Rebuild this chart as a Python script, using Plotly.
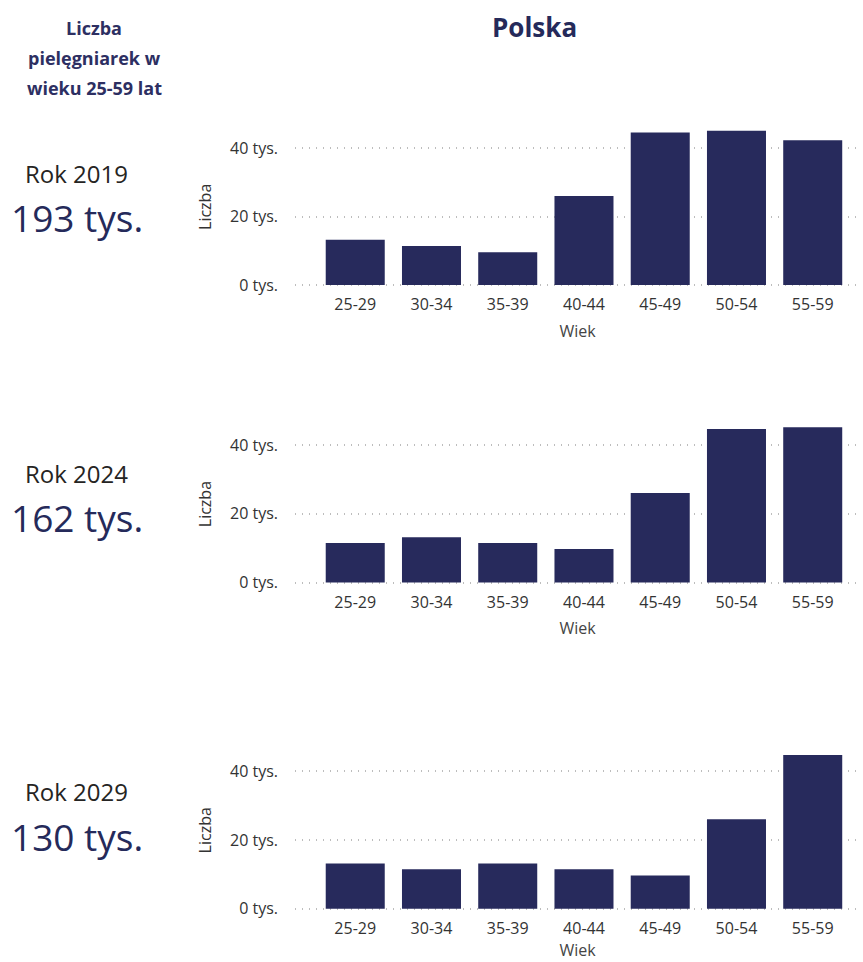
import plotly.graph_objects as go

categories = ["25-29", "30-34", "35-39", "40-44", "45-49", "50-54", "55-59"]
years = ["Rok 2019", "Rok 2024", "Rok 2029"]
totals = ["193 tys.", "162 tys.", "130 tys."]
values_2019 = [13.2, 11.4, 9.6, 26.0, 44.6, 45.1, 42.3]
values_2024 = [11.5, 13.2, 11.5, 9.8, 26.1, 44.7, 45.2]
values_2029 = [13.2, 11.5, 13.2, 11.5, 9.7, 26.1, 44.8]
series = [values_2019, values_2024, values_2029]
y_ticks = [0, 20, 40]
y_ticktext = ["0 tys.", "20 tys.", "40 tys."]

YSCALE, YSHIFT = 0.9887, 0.3  # observed vertical compression of the capture
W, H = 863, 973
NAVY = "#272A5C"
FONT = "Open Sans"


def px(x):
    return x / W


def py(y):
    return 1 - ((y - YSHIFT) / YSCALE) / H


YMIN, YMAX = -0.3, 46
# zero line pixel and pixels per unit for each panel (reference coords)
panels = [(285.0, 3.4175), (582.3, 3.4325), (908.0, 3.425)]
x_left, x_right = 295, 860
rok_y = [174, 473, 791]
tot_y = [218, 517, 836]
wiek_standoff = [11, 11, 7]

fig = go.Figure()
layout = dict(
    width=W, height=H,
    margin=dict(l=0, r=0, t=0, b=0),
    paper_bgcolor="white", plot_bgcolor="white",
    showlegend=False,
    font=dict(family=FONT, color="#444", size=16),
    bargap=0.226,
)

annotations = []
for i, vals in enumerate(series):
    n = "" if i == 0 else str(i + 1)
    fig.add_trace(go.Bar(x=categories, y=vals, marker=dict(color=NAVY, line=dict(width=0)),
                         xaxis="x" + n, yaxis="y" + n, hoverinfo="x+y"))
    zero, k = panels[i]
    bottom = zero - YMIN * k
    top = zero - YMAX * k
    layout["xaxis" + n] = dict(
        domain=[px(x_left), px(x_right)], anchor="y" + n,
        type="category", range=[-0.79, 6.62],
        showgrid=False, showline=False, ticks="", zeroline=False,
        tickfont=dict(size=16, color="#333"),
        ticklabelstandoff=7,
        title=dict(text="Wiek", font=dict(size=16, color="#444"), standoff=wiek_standoff[i]),
    )
    layout["yaxis" + n] = dict(
        domain=[py(bottom), py(top)], anchor="x" + n,
        range=[YMIN, YMAX], tickmode="array", tickvals=y_ticks, ticktext=y_ticktext,
        showgrid=True, gridcolor="#BDBDBD", griddash="1px,6px", gridwidth=1.5,
        zeroline=False, showline=False, ticks="",
        ticklabelstandoff=16,
        tickfont=dict(size=16, color="#333"),
        title=dict(text="Liczba", font=dict(size=16, color="#333"), standoff=14),
    )
    annotations.append(dict(text=years[i], x=px(76), y=py(rok_y[i]),
                            xref="paper", yref="paper", showarrow=False,
                            font=dict(size=24, color="#252423", family=FONT),
                            xanchor="center", yanchor="middle"))
    annotations.append(dict(text=totals[i], x=px(77), y=py(tot_y[i]),
                            xref="paper", yref="paper", showarrow=False,
                            font=dict(size=37, color="#252A5A", family=FONT),
                            xanchor="center", yanchor="middle"))

title_lines = ["Liczba", "pielęgniarek w", "wieku 25-59 lat"]
title_y = [28, 58, 88]
for line, ly in zip(title_lines, title_y):
    annotations.append(dict(text="<b>" + line + "</b>", x=px(94), y=py(ly),
                            xref="paper", yref="paper", showarrow=False,
                            font=dict(size=18, color="#2D2F62", family=FONT),
                            xanchor="center", yanchor="middle"))
annotations.append(dict(text="<b>Polska</b>", x=px(534), y=py(27), xref="paper", yref="paper",
                        showarrow=False, font=dict(size=26, color="#252A5A", family=FONT),
                        xanchor="center", yanchor="middle"))
layout["annotations"] = annotations
fig.update_layout(**layout)
fig.write_html("out.html", config={"displayModeBar": False},
               post_script="document.body.style.margin='0';document.body.style.overflow='hidden';")
